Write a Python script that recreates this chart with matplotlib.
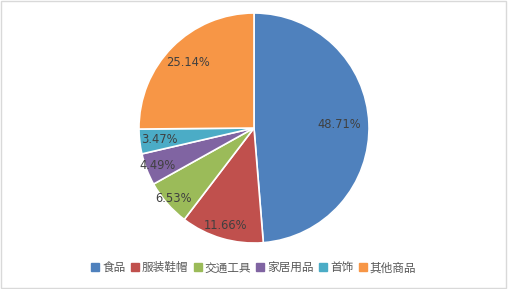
import matplotlib
matplotlib.use("Agg")
import matplotlib.pyplot as plt
from matplotlib.patches import Rectangle
import numpy as np

categories = ["食品", "服装鞋帽", "交通工具", "家居用品", "首饰", "其他商品"]
values = [48.71, 11.66, 6.53, 4.49, 3.47, 25.14]
labels = ["48.71%", "11.66%", "6.53%", "4.49%", "3.47%", "25.14%"]
colors = ["#4F81BD", "#C0504D", "#9BBB59", "#8064A2", "#4BACC6", "#F79646"]
label_r = [0.74, 0.88, 0.93, 0.90, 0.83, 0.81]

fig = plt.figure(figsize=(5.08, 2.89), dpi=100)
fig.patches.append(Rectangle((0.002, 0.003), 0.995, 0.994, transform=fig.transFigure,
                             fill=False, edgecolor="#D9D9D9", linewidth=1))

ax = fig.add_axes([0.5 - 0.2264, 0.557 - 0.398, 0.4528, 0.796])
wedges, _ = ax.pie(values, colors=colors, startangle=90, counterclock=False,
                   wedgeprops=dict(edgecolor="white", linewidth=1.2))
ax.set_aspect("equal")
ax.set_xlim(-1, 1)
ax.set_ylim(-1, 1)

total = sum(values)
start = 90.0
for v, lab, r in zip(values, labels, label_r):
    mid = np.deg2rad(start - v / total * 360 / 2)
    start -= v / total * 360
    ax.text(r * np.cos(mid), r * np.sin(mid), lab, ha="center", va="center",
            fontsize=8.3, color="#404040", family="DejaVu Sans")

handles = [plt.Line2D([], [], marker="s", linestyle="", markersize=5.5,
                      markerfacecolor=c, markeredgecolor=c) for c in colors]
fig.legend(handles, categories, loc="center", bbox_to_anchor=(0.5, 0.073), ncol=6,
           frameon=False, handlelength=0.6, handletextpad=0.3, columnspacing=0.5,
           prop={"family": ["Noto Sans CJK SC", "DejaVu Sans"], "size": 8.4},
           labelcolor="#595959")

fig.savefig("out.png", dpi=100)
